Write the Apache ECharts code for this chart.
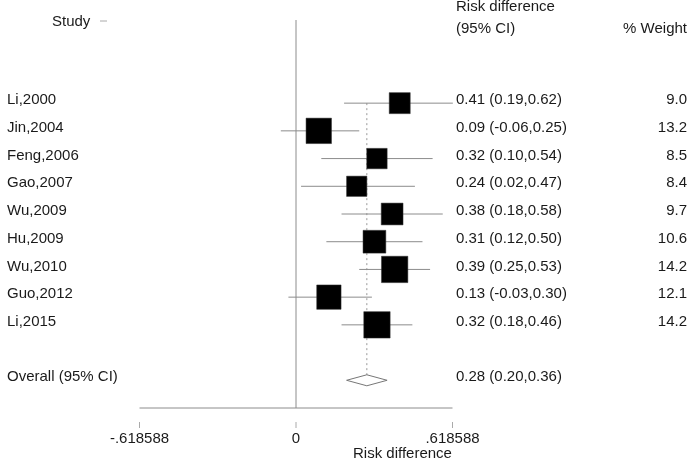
<!DOCTYPE html>
<html>
<head>
<meta charset="utf-8">
<script src="https://cdn.jsdelivr.net/npm/echarts@6/dist/echarts.min.js"></script>
<style>
html,body{margin:0;padding:0;background:#fff;}
#chart{width:693px;height:459px;}
</style>
</head>
<body>
<div id="chart"></div>
<script>
// ---- data ----
const studies = ['Li,2000','Jin,2004','Feng,2006','Gao,2007','Wu,2009','Hu,2009','Wu,2010','Guo,2012','Li,2015'];
const estimates = [0.41, 0.09, 0.32, 0.24, 0.38, 0.31, 0.39, 0.13, 0.32];
const lowerCI  = [0.19, -0.06, 0.10, 0.02, 0.18, 0.12, 0.25, -0.03, 0.18];
const upperCI  = [0.62, 0.25, 0.54, 0.47, 0.58, 0.50, 0.53, 0.30, 0.46];
const weights  = [9.0, 13.2, 8.5, 8.4, 9.7, 10.6, 14.2, 12.1, 14.2];
const studyRows = [3, 4, 5, 6, 7, 8, 9, 10, 11];
const overallLabel = 'Overall (95% CI)';
const overallEst = 0.28, overallLo = 0.20, overallHi = 0.36;
const overallRow = 13;
const axisTicks = [-0.618588, 0, 0.618588];
const tickLabels = ['-.618588', '0', '.618588'];
const xTitle = 'Risk difference';

function fmt(v){ return v.toFixed(2); }
const ciTexts = estimates.map((e,i)=> fmt(e)+' ('+fmt(lowerCI[i])+','+fmt(upperCI[i])+')');
const overallText = fmt(overallEst)+' ('+fmt(overallLo)+','+fmt(overallHi)+')';

const FONT = '"Liberation Sans", Arial, Helvetica, sans-serif';
const TXT = '#1a1a1a';
const LINE = '#8c8c8c';

const chart = echarts.init(document.getElementById('chart'), null, {renderer:'canvas'});

const boxData = studies.map((s,i)=>[estimates[i], lowerCI[i], upperCI[i], weights[i], studyRows[i]]);
const textData = studies.map((s,i)=>[0, studyRows[i]]);
const tickData = axisTicks.map(t=>[t, 14]);

const option = {
  animation: false,
  backgroundColor: '#fff',
  grid: {left: 139.5, right: 240.5, top: 20, bottom: 51},
  xAxis: {type:'value', min: axisTicks[0], max: axisTicks[2], interval: axisTicks[2],
     position:'bottom', offset: 14, axisLine:{show:false, onZero:false},
     axisTick:{show:false},
     axisLabel:{show:true, margin:9, color:TXT, fontFamily:FONT, fontSize:15,
       formatter: v => { const k = axisTicks.findIndex(t=>Math.abs(t-v)<1e-9); return k>=0 ? tickLabels[k] : ''; }},
     splitLine:{show:false}},
  yAxis: {type:'value', min:0, max:14, inverse:true, show:false},
  graphic: [
    {type:'text', left:52, top:14, style:{text:'Study', font:'15px '+FONT, fill:TXT}},
    {type:'line', shape:{x1:100, y1:21, x2:107, y2:21}, style:{stroke:'#aaa', lineWidth:1}},
    {type:'text', left:456, top:-1, style:{text:'Risk difference', font:'15px '+FONT, fill:TXT}},
    {type:'text', left:456, top:21, style:{text:'(95% CI)', font:'15px '+FONT, fill:TXT}},
    {type:'text', right:6, top:21, style:{text:'% Weight', font:'15px '+FONT, fill:TXT}},
    {type:'text', left:353, top:446, style:{text:xTitle, font:'15px '+FONT, fill:TXT}}
  ],
  series: [
    {
      type:'custom', clip:false,
      data: [[0,0]],
      renderItem: (params, api) => {
        const zt = api.coord([0, 0]);
        const zb = api.coord([0, 14]);
        const al = api.coord([axisTicks[0], 14]);
        const ar = api.coord([axisTicks[2], 14]);
        const dt = api.coord([overallEst, 3]);
        const db = api.coord([overallEst, 13.25]);
        return {type:'group', children:[
          {type:'line', shape:{x1:zt[0], y1:zt[1], x2:zb[0], y2:zb[1]}, style:{stroke:LINE, lineWidth:1}},
          {type:'line', shape:{x1:al[0], y1:al[1], x2:ar[0], y2:ar[1]}, style:{stroke:LINE, lineWidth:1}},
          {type:'line', shape:{x1:dt[0], y1:dt[1], x2:db[0], y2:db[1]}, style:{stroke:'#999', lineWidth:1, lineDash:[2,3]}}
        ]};
      }
    },
    {
      type:'custom', clip:false,
      data: tickData,
      renderItem: (params, api) => {
        const p = api.coord([api.value(0), api.value(1)]);
        return {type:'line', shape:{x1:p[0], y1:p[1]+14, x2:p[0], y2:p[1]+20}, style:{stroke:'#aaa', lineWidth:1}};
      }
    },
    {
      type:'custom', clip:false,
      data: boxData,
      renderItem: (params, api) => {
        const est = api.value(0), lo = api.value(1), hi = api.value(2), w = api.value(3), row = api.value(4);
        const c = api.coord([est, row]);
        const l = api.coord([lo, row]);
        const h = api.coord([hi, row]);
        const s = 7 * Math.sqrt(w);
        return {type:'group', children:[
          {type:'line', shape:{x1:l[0], y1:l[1], x2:h[0], y2:h[1]}, style:{stroke:LINE, lineWidth:1}},
          {type:'rect', shape:{x:c[0]-s/2, y:c[1]-s/2, width:s, height:s}, style:{fill:'#000', stroke:'#333', lineWidth:0.5}}
        ]};
      }
    },
    {
      type:'custom', clip:false,
      data: [[overallEst, overallLo, overallHi, overallRow]],
      renderItem: (params, api) => {
        const c = api.coord([api.value(0), api.value(3)]);
        const l = api.coord([api.value(1), api.value(3)]);
        const h = api.coord([api.value(2), api.value(3)]);
        const hh = 5.5;
        return {type:'polygon', shape:{points:[[l[0],c[1]],[c[0],c[1]-hh],[h[0],c[1]],[c[0],c[1]+hh]]},
          style:{fill:'#fff', stroke:'#777', lineWidth:1}};
      }
    },
    {
      type:'custom', clip:false, z:5,
      data: textData.concat([[1, overallRow]]),
      renderItem: (params, api) => {
        const i = params.dataIndex;
        const y = api.coord([0, api.value(1)])[1] - 3;
        const isOverall = i >= studies.length;
        const kids = [
          {type:'text', style:{x:7, y:y, text: isOverall ? overallLabel : studies[i], font:'15px '+FONT, fill:TXT, textVerticalAlign:'middle', textAlign:'left'}},
          {type:'text', style:{x:456, y:y, text: isOverall ? overallText : ciTexts[i], font:'15px '+FONT, fill:TXT, textVerticalAlign:'middle', textAlign:'left'}}
        ];
        if (!isOverall) kids.push({type:'text', style:{x:687, y:y, text: weights[i].toFixed(1), font:'15px '+FONT, fill:TXT, textVerticalAlign:'middle', textAlign:'right'}});
        return {type:'group', children: kids};
      }
    }
  ]
};
chart.setOption(option);
</script>
</body>
</html>
